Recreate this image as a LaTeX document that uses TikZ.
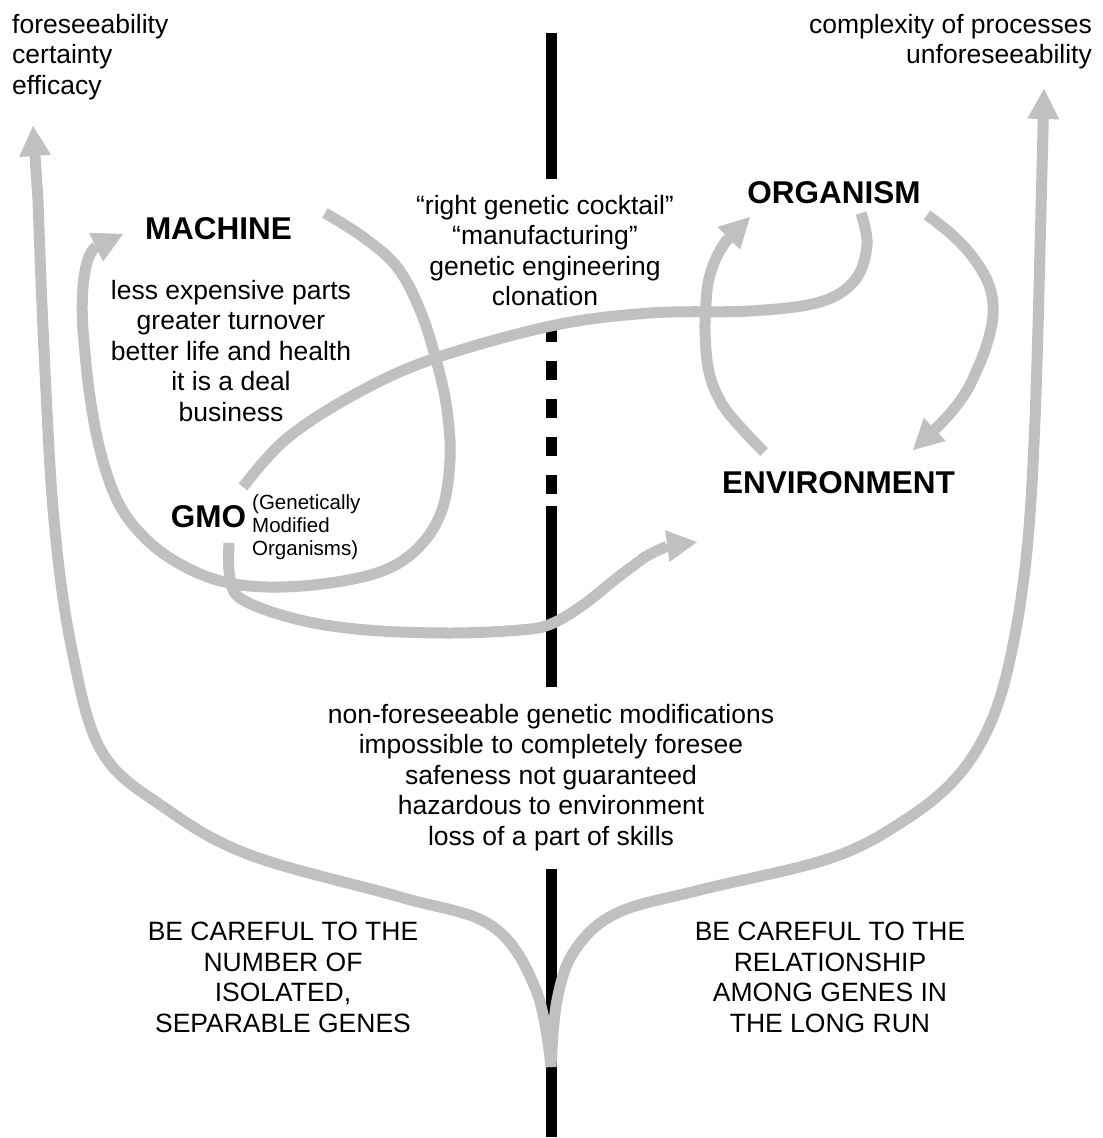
\documentclass[tikz,border=0pt]{standalone}
\usepackage{fontspec}
\setmainfont{Liberation Sans}
\usetikzlibrary{arrows.meta}
\definecolor{flowgray}{HTML}{C0C0C0}

\begin{document}
\begin{tikzpicture}[x=1pt,y=-1pt,
    txt/.style={inner sep=0pt,align=center,font=\fontsize{26.5}{30.5}\selectfont},
    head/.style={inner sep=0pt,font=\fontsize{31.5}{36}\selectfont\bfseries},
    note/.style={inner sep=0pt,align=left,font=\fontsize{20.5}{23}\selectfont},
    flow/.style={draw=flowgray,line width=11pt},
    flowtip/.style={-{Triangle[length=30pt,width=32pt,line width=0pt]}},
    divider/.style={draw=black,line width=11pt}]
  \path[use as bounding box,fill=white] (0,0) rectangle (1103,1138);

  \draw[divider] (551,33) -- (551,179);
  \draw[divider,dash pattern=on 19pt off 19pt] (551,323) -- (551,494);
  \draw[divider] (551,506) -- (551,687);
  \draw[divider] (551,869) -- (551,1137);

  \node[txt,anchor=north west,align=left] (gains) at (12,14) {foreseeability\\certainty\\efficacy};
  \node[txt,anchor=north east,align=right] (risks) at (1092,14) {complexity of processes\\unforeseeability};
  \node[head,anchor=base] (machine) at (218.5,239) {MACHINE};
  \node[txt,anchor=north] (benefits) at (231,280) {less expensive parts\\greater turnover\\better life and health\\it is a deal\\business};
  \node[head,anchor=base] (gmo) at (208.5,527) {GMO};
  \node[note,anchor=north west] (gmolong) at (252,494) {(Genetically\\Modified\\Organisms)};
  \node[txt,anchor=north] (methods) at (545,195) {“right genetic cocktail”\\“manufacturing”\\genetic engineering\\clonation};
  \node[head,anchor=base] (organism) at (834,203) {ORGANISM};
  \node[head,anchor=base] (environment) at (838.5,493) {ENVIRONMENT};
  \node[txt,anchor=north] (dangers) at (551,704) {non-foreseeable genetic modifications\\impossible to completely foresee\\safeness not guaranteed\\hazardous to environment\\loss of a part of skills};
  \node[txt,anchor=north] (warnleft) at (283,922) {BE CAREFUL TO THE\\NUMBER OF\\ISOLATED,\\SEPARABLE GENES};
  \node[txt,anchor=north] (warnright) at (830,922) {BE CAREFUL TO THE\\RELATIONSHIP\\AMONG GENES IN\\THE LONG RUN};

  \coordinate (root) at (551,1067);
  \coordinate (foretip) at (33,126);
  \coordinate (complextip) at (1044,89);
  \coordinate (machout) at (325,213);
  \coordinate (machin) at (123,234);
  \coordinate (gmoup) at (243,487);
  \coordinate (orgdown) at (861,213);
  \coordinate (gmodown) at (229,543);
  \coordinate (envin) at (697,542);
  \coordinate (envup) at (764,452);
  \coordinate (orgin) at (750,217);
  \coordinate (orgout) at (927,215);
  \coordinate (envin2) at (913,450);

  \draw[flow,flowtip] plot[smooth,tension=0.6] coordinates {(root) (536,990) (492,926) (400,897) (250,855) (165,808) (102,752) (72,650) (54,520) (44,350) (38,200)} -- (foretip);
  \draw[flow,flowtip] plot[smooth,tension=0.6] coordinates {(root) (557,1000) (575,950) (617,913) (700,890) (831,858) (905,820) (957,777) (991,722) (1012,650) (1027,550) (1035,420) (1040,250)} -- (complextip);
  \draw[flow,flowtip] plot[smooth,tension=0.6] coordinates {(machout) (363,237) (397,267) (420,310) (437,363) (447,410) (450,460) (442,510) (420,546) (385,570) (330,583) (267,587) (217,580) (173,560) (140,533) (117,500) (100,450) (89,390) (83,330)} .. controls (80,285) and (86,252) .. (machin);
  \draw[flow] plot[smooth,tension=0.6] coordinates {(gmoup) (285,440) (350,397) (430,360) (551,326) (650,313) (750,311) (820,302) (855,280) (867,245) (orgdown)};
  \draw[flow,flowtip] plot[smooth,tension=0.6] coordinates {(gmodown) (230,578) (243,600) (300,620) (367,630) (450,633) (520,630) (551,624) (583,605) (617,578) (645,557)} .. controls (655,551) and (668,546) .. (envin);
  \draw[flow,flowtip] plot[smooth,tension=0.6] coordinates {(envup) (743,430) (722,404) (709,372) (705,330) (707,290)} .. controls (710,265) and (722,245) .. (orgin);
  \draw[flow,flowtip] plot[smooth,tension=0.6] coordinates {(orgout) (950,233) (972,256) (989,285) (993,315) (985,350) (970,385)} .. controls (962,400) and (950,415) .. (envin2);
\end{tikzpicture}
\end{document}
